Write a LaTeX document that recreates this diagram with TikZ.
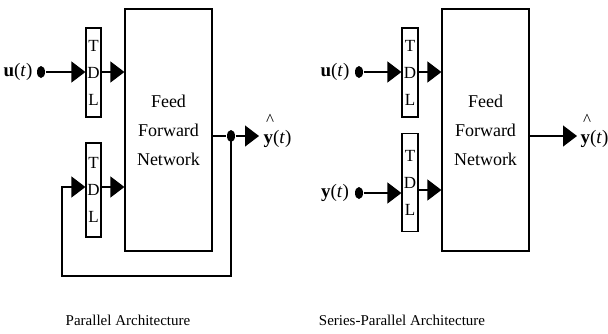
\documentclass[tikz,border=0pt]{standalone}
\usepackage{fontspec}
\setmainfont{Liberation Serif}
\usetikzlibrary{arrows.meta,shapes.geometric}
\begin{document}
\begin{tikzpicture}[x=1pt,y=-1pt,
  line width=1.2pt,
  boxs/.style={draw,line width=1.2pt,minimum width=87pt,minimum height=242pt,inner sep=0pt,align=center,font=\fontsize{18}{29}\selectfont},
  tdlbox/.style={draw,line width=1.2pt,minimum width=15pt,inner sep=0pt,align=center,font=\fontsize{17}{27}\selectfont},
  lab/.style={inner sep=0pt,font=\fontsize{19}{22}\selectfont},
  hatn/.style={inner sep=0pt,font=\fontsize{17}{20}\selectfont},
  captxt/.style={inner sep=0pt,font=\fontsize{15}{18}\selectfont},
  dotn/.style={ellipse,fill=black,inner sep=0pt,minimum width=8pt,minimum height=12pt},
  arr/.style={-{Triangle[length=14pt,width=21pt]}}
]
\useasboundingbox (0,0) rectangle (608,333);
% ---------- Parallel ----------
\node[boxs] (ffn1) at (168.5,130) {Feed\\Forward\\Network};
\node[tdlbox,minimum height=89pt] (tdl1a) at (93.5,72.5) {T\\D\\L};
\node[tdlbox,minimum height=94pt] (tdl1b) at (93.5,190) {T\\D\\L};
\node[lab] (u1) at (18,72) {\textbf{u}(\textit{t})};
\node[dotn] (u1d) at (41,72) {};
\draw[arr] (u1d) -- (tdl1a.west |- u1d);
\draw[arr] (tdl1a.east |- u1d) -- (ffn1.west |- u1d);
\coordinate (o1) at (212,136);
\node[dotn] (od1) at (231,136) {};
\coordinate (oe1) at (259,136);
\draw (ffn1.east |- o1) -- (od1);
\draw[arr] (od1) -- (oe1);
\node[lab,anchor=west] (yh1) at (263,139) {\textbf{y}(\textit{t})};
\node[hatn] (hat1) at (270,120) {\^{}};
\coordinate (fb1) at (231,276);
\coordinate (fb2) at (62,276);
\coordinate (fb3) at (62,187);
\draw[arr] (od1.center) -- (fb1) -- (fb2) -- (fb3) -- (tdl1b.west |- fb3);
\draw[arr] (tdl1b.east |- fb3) -- (ffn1.west |- fb3);
\node[captxt] (c1) at (128,320) {Parallel Architecture};
% ---------- Series-Parallel ----------
\node[boxs] (ffn2) at (485.5,130) {Feed\\Forward\\Network};
\node[tdlbox,minimum width=16pt,minimum height=89pt] (tdl2a) at (410,72.5) {T\\D\\L};
\node[tdlbox,minimum width=16pt,minimum height=98pt] (tdl2b) at (410,182.5) {T\\D\\L};
\node[lab] (u2) at (335,72) {\textbf{u}(\textit{t})};
\node[dotn] (u2d) at (359,72) {};
\draw[arr] (u2d) -- (tdl2a.west |- u2d);
\draw[arr] (tdl2a.east |- u2d) -- (ffn2.west |- u2d);
\node[lab] (y2) at (335,193) {\textbf{y}(\textit{t})};
\node[dotn] (y2d) at (359,193) {};
\coordinate (y2r) at (359,190);
\draw[arr] (y2d) -- (tdl2b.west |- y2d);
\draw[arr] (tdl2b.east |- y2r) -- (ffn2.west |- y2r);
\coordinate (o2) at (529,136);
\coordinate (oe2) at (577,136);
\draw[arr] (ffn2.east |- o2) -- (oe2);
\node[lab,anchor=west] (yh2) at (580,139) {\textbf{y}(\textit{t})};
\node[hatn] (hat2) at (587,120) {\^{}};
\node[captxt] (c2) at (402,320) {Series-Parallel Architecture};
\end{tikzpicture}
\end{document}
